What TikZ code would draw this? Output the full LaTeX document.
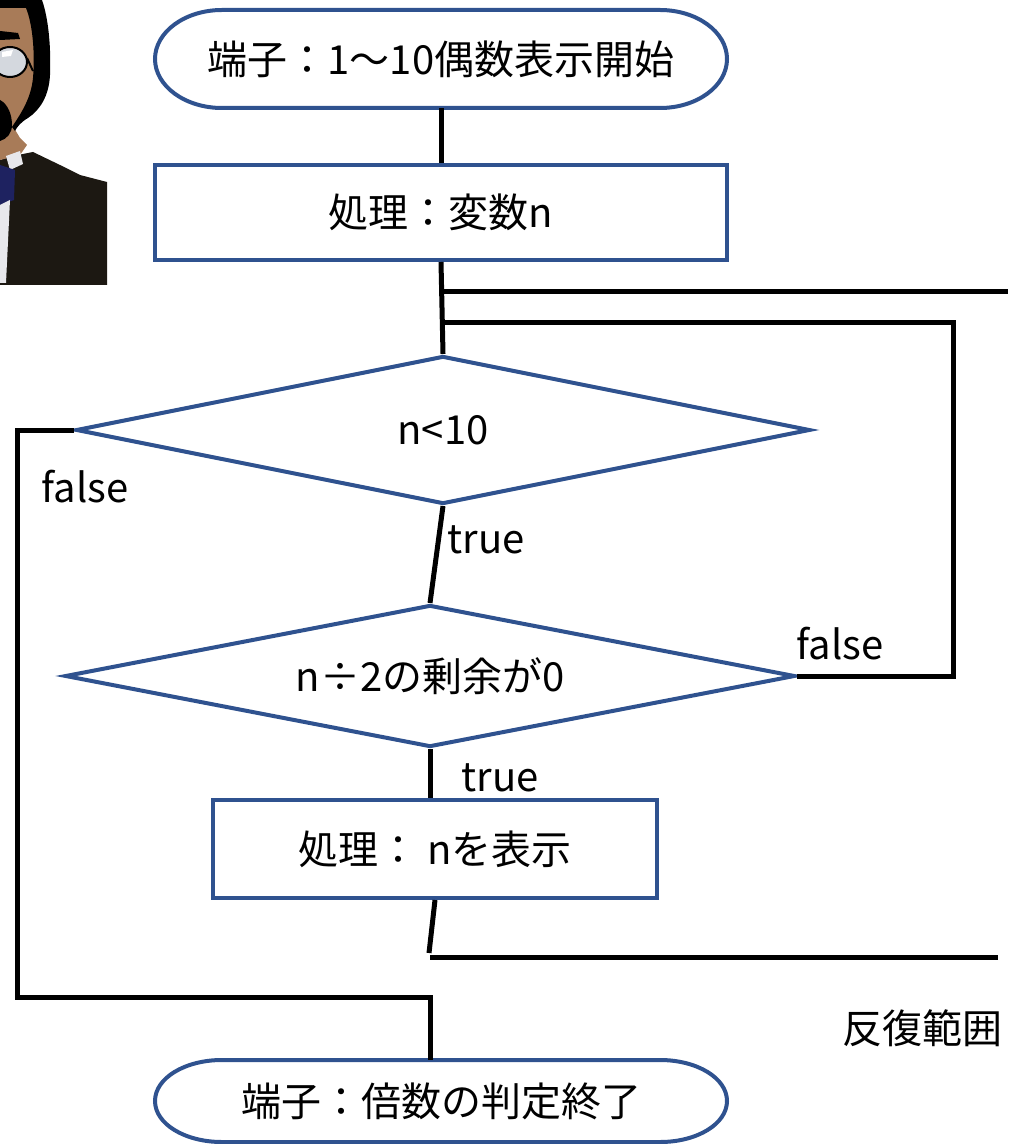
\documentclass[tikz,border=0pt]{standalone}
\usepackage{fontspec}
\setmainfont{Noto Sans CJK JP}
\usetikzlibrary{shapes.geometric}

\definecolor{flowblue}{RGB}{47,82,143}
\definecolor{suitdark}{RGB}{28,24,18}
\definecolor{skin}{RGB}{168,123,88}
\definecolor{lens}{RGB}{212,216,222}
\definecolor{tienavy}{RGB}{30,34,96}
\definecolor{shirt}{RGB}{232,232,236}
\newcommand\flowfont{\fontsize{30}{36}\selectfont}

\begin{document}
\begin{tikzpicture}[x=0.75pt,y=0.75pt,yscale=-1,xscale=1,
  terminal/.style={inner sep=0pt, minimum width=429pt, font=\flowfont},
  process/.style={draw=flowblue, line width=3pt, rectangle, inner sep=0pt, font=\flowfont},
  decision/.style={draw=flowblue, line width=3pt, diamond, aspect=5, inner sep=0pt, font=\flowfont},
  flow/.style={line width=3.75pt, black},
  tag/.style={inner sep=0pt, font=\flowfont}]
\useasboundingbox (0,0) rectangle (1008,1144);

%Clip art: man in suit
\fill [suitdark] (0,285) -- (0,160) -- (13,156) -- (33,152) -- (60,165) -- (80,175) -- (107,182) -- (107,285) -- cycle ;
\fill [skin] (0,0) -- (33,0) -- (35,40) -- (35,80) -- (31,100) -- (22,117) -- (14,128) -- (20,138) -- (27,145) -- (20,155) -- (0,160) -- cycle ;
\fill [black] (0,0) -- (42,0) .. controls (49,20) and (51,50) .. (50,75) .. controls (49,96) and (40,110) .. (28,118) .. controls (21,122) and (17,127) .. (15,131) -- (12,127) .. controls (22,112) and (31,98) .. (33,78) .. controls (35,55) and (33,25) .. (26,8) -- (0,8) -- cycle ;
\fill [black] (0,31) -- (18,33) -- (20,39) -- (0,40) -- cycle ;
\draw [black, line width=1.5pt, fill=lens] (10,62) ellipse [x radius=17, y radius=15] ;
\draw [black, line width=1.5pt] (27,58) -- (33,71) ;
\fill [white] (2,52) -- (13,50) -- (11,56) -- (2,57) -- cycle ;
\fill [black] (0,100) .. controls (8,104) and (12,115) .. (12,125) .. controls (12,133) and (7,139) .. (0,141) -- cycle ;
\fill [shirt] (6,156) -- (20,151) -- (23,164) -- (10,170) -- cycle ;
\fill [tienavy] (0,165) -- (15,170) -- (14,200) -- (0,205) -- cycle ;
\fill [shirt] (0,205) -- (10,200) -- (6,283) -- (0,283) -- cycle ;

%Flowchart: Terminator
\draw [color=flowblue, line width=3pt] (222,10) -- (660,10) .. controls (697,10) and (727,32) .. (727,59) .. controls (727,86) and (697,108) .. (660,108) -- (222,108) .. controls (185,108) and (155,86) .. (155,59) .. controls (155,32) and (185,10) .. (222,10) -- cycle ;
\node (start) [terminal, minimum height=73.5pt] at (441,59) {端子：1～10偶数表示開始};

%Flowchart: Process
\node (var) [process, minimum width=429pt, minimum height=71.25pt] at (441,212.5) {処理：変数n};

%Flowchart: Decision
\node (cond) [decision, minimum width=550.5pt, minimum height=111pt] at (443,430) {n<10};
\node (even) [decision, aspect=5.14, minimum width=547.5pt, minimum height=106.5pt] at (430,676) {n÷2の剰余が0};

%Flowchart: Process
\node (show) [process, minimum width=333pt, minimum height=73.5pt] at (435,849) {処理：\ nを表示};

%Flowchart: Terminator
\draw [color=flowblue, line width=3pt] (222,1060) -- (660,1060) .. controls (697,1060) and (727,1078) .. (727,1101) .. controls (727,1124) and (697,1142) .. (660,1142) -- (222,1142) .. controls (185,1142) and (155,1124) .. (155,1101) .. controls (155,1078) and (185,1060) .. (222,1060) -- cycle ;
\node (stop) [terminal, minimum height=61.5pt] at (441,1101) {端子：倍数の判定終了};

%Loop ends
\coordinate (loopin) at (441,292) ;
\coordinate (loopinend) at (1008,292) ;
\coordinate (back) at (441,323) ;
\coordinate (backcorner) at (953,323) ;
\coordinate (loopout) at (429,953) ;
\coordinate (loopoutstart) at (430,957) ;
\coordinate (loopoutend) at (998,957) ;
\coordinate (exitcorner) at (17,997) ;
\coordinate (exitjoin) at (430,997) ;

%Straight Lines
\draw [flow] (start) -- (var) ;
\draw [flow] (var.south) -- (cond.north) ;
\draw [flow] (loopin) -- (loopinend) ;
\draw [flow] (even.east) -| (backcorner) -- (back) ;
\draw [flow] (cond.south) -- (even.north) ;
\draw [flow] (even.south) -- (show.north -| even.south) ;
\draw [flow] (show.south) -- (loopout) ;
\draw [flow] (loopoutstart) -- (loopoutend) ;
\draw [flow] (cond.west) -| (exitcorner) -- (exitjoin) -- (exitjoin |- stop.north) ;

% Text Node
\node (falseexit) [tag] at (85,487) {false};
% Text Node
\node (truecond) [tag] at (486,540) {true};
% Text Node
\node (falseeven) [tag] at (840,644) {false};
% Text Node
\node (trueeven) [tag] at (500,778) {true};
% Text Node
\node (range) [tag] at (922,1028) {反復範囲};

\end{tikzpicture}
\end{document}
